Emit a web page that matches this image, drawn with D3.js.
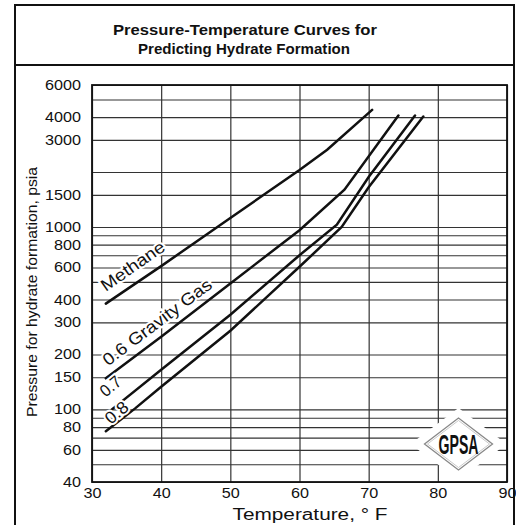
<!DOCTYPE html>
<html>
<head>
<meta charset="utf-8">
<script src="https://cdn.jsdelivr.net/npm/d3@7"></script>
<style>
  body { margin: 0; background: #fff; }
  text { font-family: "Liberation Sans", Arial, Helvetica, sans-serif; fill: #111; }
</style>
</head>
<body>
<script>
// curve data (temperature in F, pressure in psia)
var methaneTemp = [32, 40, 50, 60, 64, 70.5];
var methanePsia = [380, 610, 1120, 2050, 2650, 4380];
var gas06Temp = [32, 40, 50, 60, 66.5, 74.3];
var gas06Psia = [148, 250, 490, 960, 1600, 4080];
var gas07Temp = [32.3, 40, 50, 60, 65.4, 70, 76.7];
var gas07Psia = [96, 165, 330, 700, 1030, 1880, 4080];
var gas08Temp = [32, 36.2, 40, 50, 60, 66.1, 70, 77.9];
var gas08Psia = [76, 101, 133, 270, 605, 1000, 1650, 4030];

var curveNames = ["Methane", "0.6 Gravity Gas", "0.7", "0.8"];
// where each label starts (data units)
var labelTemp = [32.0, 32.3, 32.0, 32.7];
var labelPsia = [440, 172, 116, 82];

var xTicks = [30, 40, 50, 60, 70, 80, 90];
var yTicks = [40, 60, 80, 100, 150, 200, 300, 400, 600, 800, 1000, 1500, 3000, 4000, 6000];
var yGrid = [40, 50, 60, 70, 80, 90, 100, 150, 200, 300, 400, 500, 600, 700, 800, 900,
             1000, 1500, 2000, 3000, 4000, 5000, 6000];

var svg = d3.select('body').append('svg')
    .attr('width', 516)
    .attr('height', 525);

var x = d3.scaleLinear().domain([30, 90]).range([92, 507]);
var y = d3.scaleLog().domain([40, 6000]).range([482, 85]);

// outer frame + title box
svg.append('path')
   .attr('d', 'M15,525 V5 H514 V525 M15,65 H514')
   .attr('fill', 'none').attr('stroke', '#111').attr('stroke-width', 2);

svg.append('text').attr('x', 245).attr('y', 35)
   .attr('text-anchor', 'middle').attr('font-weight', 'bold').attr('font-size', 15)
   .attr('textLength', 264).attr('lengthAdjust', 'spacingAndGlyphs')
   .text('Pressure-Temperature Curves for');
svg.append('text').attr('x', 244).attr('y', 54)
   .attr('text-anchor', 'middle').attr('font-weight', 'bold').attr('font-size', 15)
   .attr('textLength', 212).attr('lengthAdjust', 'spacingAndGlyphs')
   .text('Predicting Hydrate Formation');

// grid lines
svg.append('g')
   .attr('transform', 'translate(92,0)')
   .call(d3.axisLeft(y).tickValues(yGrid).tickSize(-415).tickFormat(''))
   .call(g => g.select('.domain').remove())
   .call(g => g.selectAll('line').attr('stroke', '#333').attr('stroke-width', 1.1));

svg.append('g')
   .attr('transform', 'translate(0,482)')
   .call(d3.axisBottom(x).tickValues(xTicks).tickSize(-397).tickFormat(''))
   .call(g => g.select('.domain').remove())
   .call(g => g.selectAll('line').attr('stroke', '#333').attr('stroke-width', 1.2));

// tick labels
svg.append('g')
   .attr('transform', 'translate(92,0)')
   .call(d3.axisLeft(y).tickValues(yTicks).tickSize(0).tickPadding(11).tickFormat(d3.format('d')))
   .call(g => g.select('.domain').remove())
   .call(g => g.selectAll('text')
        .attr('font-size', 14).attr('font-family', null).attr('fill', '#222')
        .attr('textLength', d => String(d).length * 9)
        .attr('lengthAdjust', 'spacingAndGlyphs'));

svg.append('g')
   .attr('transform', 'translate(0,482)')
   .call(d3.axisBottom(x).tickValues(xTicks).tickSize(0).tickPadding(6))
   .call(g => g.select('.domain').remove())
   .call(g => g.selectAll('text')
        .attr('font-size', 14).attr('font-family', null).attr('fill', '#222')
        .attr('textLength', d => String(d).length * 9)
        .attr('lengthAdjust', 'spacingAndGlyphs'));

// axis titles
svg.append('text').attr('x', 310).attr('y', 520)
   .attr('text-anchor', 'middle').attr('font-size', 16)
   .attr('textLength', 155).attr('lengthAdjust', 'spacingAndGlyphs')
   .text('Temperature, \u00b0 F');

svg.append('text')
   .attr('transform', 'translate(37,292) rotate(-90)')
   .attr('text-anchor', 'middle').attr('font-size', 15)
   .attr('textLength', 250).attr('lengthAdjust', 'spacingAndGlyphs')
   .text('Pressure for hydrate formation, psia');

// GPSA logo
var logo = svg.append('g').attr('transform', 'translate(458.5,444)');
logo.append('polygon').attr('points', '-48,0 0,-36 48,0 0,36').attr('fill', '#fff');
logo.append('polygon').attr('points', '-34,0 0,-26 34,0 0,26')
    .attr('fill', '#fff').attr('stroke', '#888').attr('stroke-width', 1.3);
logo.append('polygon').attr('points', '-31,0 0,-23.5 31,0 0,23.5')
    .attr('fill', 'none').attr('stroke', '#bbb').attr('stroke-width', 0.8);
logo.append('text').attr('x', 0).attr('y', 10)
    .attr('text-anchor', 'middle').attr('font-size', 27).attr('font-weight', 'bold')
    .attr('textLength', 40).attr('lengthAdjust', 'spacingAndGlyphs')
    .attr('fill', '#1a1a1a')
    .text('GPSA');

// plot border
svg.append('rect')
   .attr('x', x(30)).attr('y', y(6000))
   .attr('width', x(90) - x(30)).attr('height', y(40) - y(6000))
   .attr('fill', 'none').attr('stroke', '#111').attr('stroke-width', 1.8);

// curves
var line = d3.line()
    .x(d => x(d[0]))
    .y(d => y(d[1]));

var series = [
  d3.zip(methaneTemp, methanePsia),
  d3.zip(gas06Temp, gas06Psia),
  d3.zip(gas07Temp, gas07Psia),
  d3.zip(gas08Temp, gas08Psia)
];

svg.append('g').selectAll('path')
   .data(series)
   .enter()
   .append('path')
   .attr('d', line)
   .attr('fill', 'none')
   .attr('stroke', '#111')
   .attr('stroke-width', 2.5)
   .attr('stroke-linecap', 'round');

// curve labels
var labelAngle = [-35, -37, -40, -40];
var labelLen = [74, 132, 22, 25];

svg.append('g').selectAll('text')
   .data(curveNames)
   .enter()
   .append('text')
   .attr('transform', (d, i) => 'translate(' + x(labelTemp[i]) + ',' + y(labelPsia[i]) + ') rotate(' + labelAngle[i] + ')')
   .attr('font-size', 17)
   .attr('textLength', (d, i) => labelLen[i])
   .attr('lengthAdjust', 'spacingAndGlyphs')
   .attr('stroke', '#fff').attr('stroke-width', 4).attr('paint-order', 'stroke')
   .text(d => d);
</script>
</body>
</html>
